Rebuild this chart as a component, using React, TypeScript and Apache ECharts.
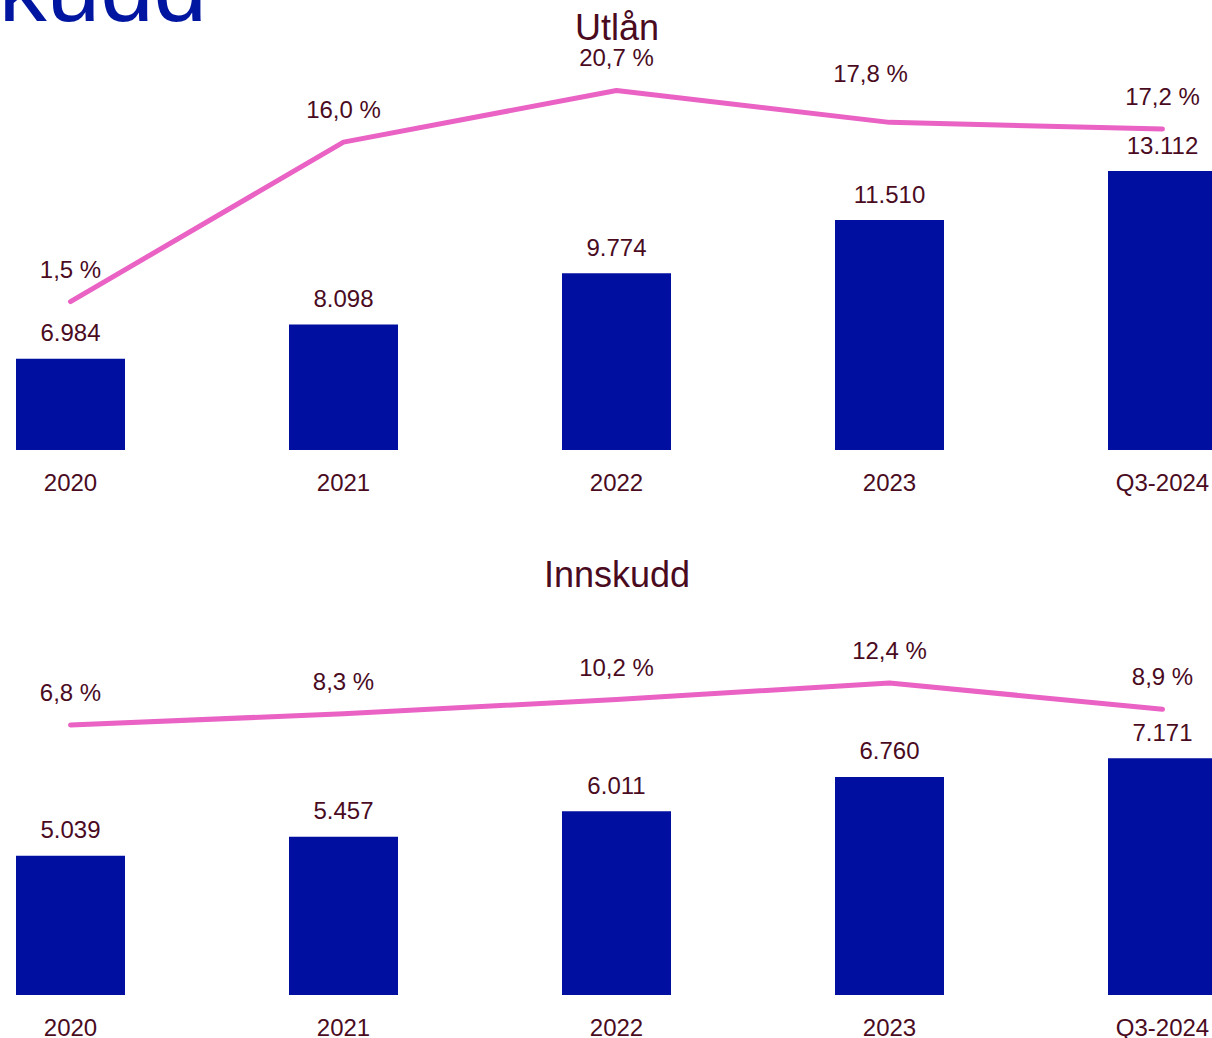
import React, { useEffect, useRef } from "react";
import * as echarts from "echarts";

const categories = ["2020", "2021", "2022", "2023", "Q3-2024"];
const utlanValues = [6984, 8098, 9774, 11510, 13112];
const utlanGrowth = [1.5, 16.0, 20.7, 17.8, 17.2];
const innskuddValues = [5039, 5457, 6011, 6760, 7171];
const innskuddGrowth = [6.8, 8.3, 10.2, 12.4, 8.9];

const BAR = "#000F9F";
const PINK = "#E962C4";
const TEXT = "#4A0B1F";
const FONT = "'Liberation Sans', Arial, sans-serif";

const fmtNum = (v: number) => {
  const s = String(Math.round(v));
  return s.replace(/\B(?=(\d{3})+(?!\d))/g, ".");
};
const fmtPct = (v: number) => v.toFixed(1).replace(".", ",") + " %";

export default function App() {
  const ref = useRef<HTMLDivElement>(null);
  useEffect(() => {
    if (!ref.current) return;
    const chart = echarts.init(ref.current, undefined, { renderer: "svg" });
    const xAxisBase = {
      type: "category",
      data: categories,
      axisLine: { show: false },
      axisTick: { show: false },
      axisLabel: { color: TEXT, fontSize: 24, lineHeight: 20, fontFamily: FONT, margin: 22 },
    };
    const hiddenY = {
      type: "value",
      show: false,
      splitLine: { show: false },
    };
    const barLabel = {
      show: true,
      position: "top",
      distance: 14,
      color: TEXT,
      fontSize: 24,
      fontFamily: FONT,
      formatter: (p: any) => fmtNum(p.value),
    };
    const lineLabel = {
      show: true,
      position: "top",
      distance: 20,
      color: TEXT,
      fontSize: 24,
      fontFamily: FONT,
      formatter: (p: any) => fmtPct(p.value),
    };
    const lineStyle = { color: PINK, width: 5, cap: "round", join: "round" };
    chart.setOption({
      animation: false,
      grid: [
        { left: -66, width: 1365, top: 52, height: 398, outerBoundsMode: "none", containLabel: false },
        { left: -66, width: 1365, top: 597, height: 398, outerBoundsMode: "none", containLabel: false },
      ],
      xAxis: [
        { ...xAxisBase, gridIndex: 0 },
        { ...xAxisBase, gridIndex: 1 },
      ],
      yAxis: [
        { ...hiddenY, gridIndex: 0, min: 4000, max: 17000 },
        { ...hiddenY, gridIndex: 0, min: -12, max: 24.2 },
        { ...hiddenY, gridIndex: 1, min: 2000, max: 10690 },
        { ...hiddenY, gridIndex: 1, min: -29.2, max: 23.87 },
      ],
      graphic: [
        {
          type: "text",
          x: 207,
          y: 35,
          style: {
            text: "Utlån og innskudd",
            fill: "#0015A0",
            fontSize: 96,
            fontFamily: FONT,
            textAlign: "right",
            textVerticalAlign: "bottom",
          },
        },
        {
          type: "text",
          x: 617,
          y: 27,
          style: {
            text: "Utlån",
            fill: TEXT,
            fontSize: 36,
            lineHeight: 30,
            fontFamily: FONT,
            textAlign: "center",
            textVerticalAlign: "middle",
          },
        },
        {
          type: "text",
          x: 617,
          y: 574,
          style: {
            text: "Innskudd",
            fill: TEXT,
            fontSize: 36,
            lineHeight: 30,
            fontFamily: FONT,
            textAlign: "center",
            textVerticalAlign: "middle",
          },
        },
      ],
      series: [
        {
          type: "bar",
          xAxisIndex: 0,
          yAxisIndex: 0,
          data: utlanValues,
          barWidth: 109,
          itemStyle: { color: BAR },
          label: barLabel,
        },
        {
          type: "line",
          xAxisIndex: 0,
          yAxisIndex: 1,
          data: utlanGrowth.map((v, i) =>
            i === 3 ? { value: v, label: { offset: [-19, -16] } } : v
          ),
          symbol: "circle",
          symbolSize: 1,
          clip: false,
          itemStyle: { color: PINK },
          lineStyle,
          label: lineLabel,
        },
        {
          type: "bar",
          xAxisIndex: 1,
          yAxisIndex: 2,
          data: innskuddValues,
          barWidth: 109,
          itemStyle: { color: BAR },
          label: barLabel,
        },
        {
          type: "line",
          xAxisIndex: 1,
          yAxisIndex: 3,
          data: innskuddGrowth,
          symbol: "circle",
          symbolSize: 1,
          clip: false,
          itemStyle: { color: PINK },
          lineStyle,
          label: lineLabel,
        },
      ],
    });
    return () => chart.dispose();
  }, []);
  return (
    <div
      ref={ref}
      style={{ position: "fixed", left: 0, top: 0, width: 1212, height: 1038, background: "#fff" }}
    />
  );
}
